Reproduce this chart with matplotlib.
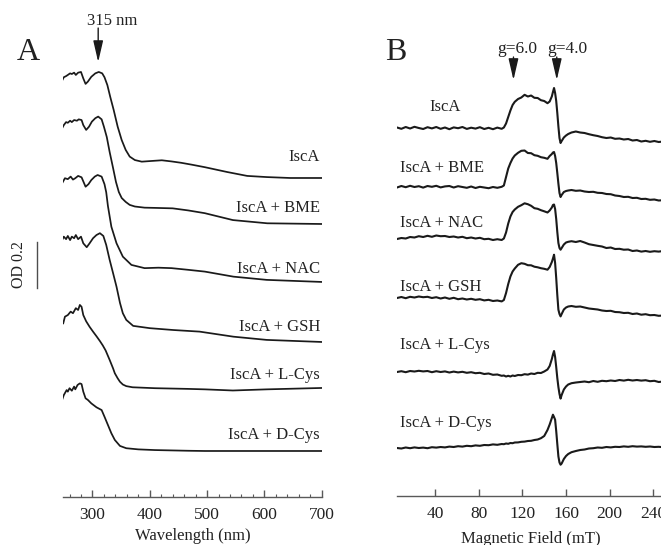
"""
UV-vis (A) and EPR (B) spectra of IscA with different thiols
"""

import numpy as np
import matplotlib.pyplot as plt
from matplotlib.ticker import MultipleLocator

plt.rcParams['font.family'] = ['Liberation Serif', 'DejaVu Serif']

samples = ['IscA', 'IscA + BME', 'IscA + NAC', 'IscA + GSH', 'IscA + L-Cys', 'IscA + D-Cys']

# ---- panel A: absorbance (OD, baseline at 700 nm = 0) ----
wl_isca = [247, 250, 254, 257, 261, 264, 268, 271, 275, 280, 284, 288, 292, 298, 305, 311, 317, 321, 326,
           331, 337, 344, 351, 358, 365, 374, 386, 403, 421, 438, 455, 473, 496, 535, 570, 604, 645, 700]
od_isca = [0.423, 0.438, 0.443, 0.448, 0.455, 0.452, 0.458, 0.448, 0.458, 0.461, 0.433, 0.409, 0.419,
           0.440, 0.455, 0.461, 0.455, 0.438, 0.404, 0.353, 0.296, 0.223, 0.165, 0.122, 0.093, 0.078,
           0.071, 0.074, 0.077, 0.072, 0.066, 0.058, 0.047, 0.026, 0.009, 0.004, 0.0, 0.0]

wl_bme = [247, 250, 254, 257, 261, 264, 268, 273, 276, 281, 284, 289, 294, 299, 305, 310, 316, 320, 325,
          330, 336, 341, 346, 351, 358, 365, 374, 391, 409, 440, 467, 496, 545, 605, 700]
od_bme = [0.416, 0.430, 0.443, 0.440, 0.449, 0.443, 0.452, 0.449, 0.455, 0.452, 0.430, 0.409, 0.423,
          0.445, 0.460, 0.467, 0.455, 0.423, 0.378, 0.313, 0.243, 0.183, 0.139, 0.113, 0.096, 0.083,
          0.076, 0.071, 0.070, 0.068, 0.059, 0.047, 0.017, 0.003, 0.0]

wl_nac = [247, 252, 257, 262, 266, 270, 275, 281, 288, 293, 298, 304, 309, 316, 321, 324, 327, 333, 342,
          353, 368, 391, 415, 438, 466, 496, 546, 604, 700]
od_nac = [0.429, 0.451, 0.447, 0.458, 0.445, 0.451, 0.461, 0.455, 0.414, 0.425, 0.443, 0.458, 0.465,
          0.458, 0.425, 0.390, 0.330, 0.240, 0.168, 0.110, 0.074, 0.060, 0.062, 0.060, 0.053, 0.045,
          0.023, 0.009, 0.0]

wl_gsh = [247, 250, 254, 257, 261, 264, 268, 271, 275, 280, 284, 290, 295, 301, 307, 313, 319, 324, 330,
          336, 342, 348, 353, 359, 371, 400, 441, 487, 546, 604, 700]
od_gsh = [0.443, 0.458, 0.447, 0.461, 0.443, 0.458, 0.451, 0.465, 0.447, 0.458, 0.429, 0.412, 0.429,
          0.451, 0.465, 0.473, 0.461, 0.422, 0.357, 0.299, 0.240, 0.170, 0.125, 0.096, 0.070, 0.060,
          0.052, 0.045, 0.023, 0.009, 0.0]

wl_lcys = [249, 252, 257, 262, 266, 271, 275, 278, 281, 284, 289, 295, 301, 307, 313, 318, 323, 330, 336,
           339, 344, 348, 353, 359, 370, 380, 409, 467, 496, 545, 604, 700]
od_lcys = [0.281, 0.310, 0.317, 0.332, 0.325, 0.347, 0.339, 0.361, 0.353, 0.317, 0.290, 0.266, 0.245,
           0.225, 0.204, 0.185, 0.163, 0.122, 0.085, 0.064, 0.042, 0.027, 0.015, 0.008, 0.003, 0.002,
           -0.001, -0.004, -0.006, -0.011, -0.006, 0.0]

wl_dcys = [247, 250, 255, 257, 260, 264, 268, 270, 274, 278, 281, 284, 288, 292, 298, 307, 316, 321, 327,
           333, 339, 348, 359, 380, 409, 467, 496, 700]
od_dcys = [0.222, 0.243, 0.265, 0.258, 0.273, 0.262, 0.280, 0.268, 0.287, 0.294, 0.291, 0.258, 0.229,
           0.222, 0.207, 0.190, 0.178, 0.149, 0.113, 0.077, 0.048, 0.022, 0.012, 0.007, 0.004, 0.001,
           0.0, 0.0]

uv_wl = [wl_isca, wl_bme, wl_nac, wl_gsh, wl_lcys, wl_dcys]
uv_od = [od_isca, od_bme, od_nac, od_gsh, od_lcys, od_dcys]
uv_offset = [1.387, 1.187, 0.935, 0.674, 0.474, 0.200]

# ---- panel B: EPR signal (arb. units, read at these fields in mT) ----
field = [5, 9, 13, 17, 21, 25, 29, 33, 37, 41, 45, 49, 53, 57, 61, 65, 69, 73, 77, 81, 85, 89, 93, 97, 101,
         103, 105, 107, 109, 111, 113, 116, 119, 122, 125, 128, 131, 134, 137, 140, 143, 145, 147, 148, 149,
         150, 151, 152, 153, 154, 155, 156, 158, 160, 162,
         165, 169, 173, 177, 181, 185, 189, 193, 197, 201, 205, 209, 213, 217, 221, 225, 229, 233, 237, 241,
         245, 249]

epr_isca = [0.05, -0.08, 0.10, -0.05, 0.12, 0.00, -0.10, 0.08, -0.04, 0.10, -0.08, 0.05, -0.12, 0.06, -0.02,
            0.10, -0.09, 0.03, -0.06, 0.08, -0.10, 0.02, -0.12, 0.04, -0.08,
            0.05, 0.45, 1.10, 1.75, 2.30, 2.62, 2.90, 3.05, 3.32, 3.15, 3.25, 3.02, 3.00, 2.78, 2.70, 2.48,
            2.65, 3.16, 3.60, 4.00, 3.50, 2.70, 1.50, 0.16, -1.00, -1.50, -1.30, -0.95, -0.75, -0.60,
            -0.45, -0.35, -0.45, -0.50, -0.62, -0.72, -0.80, -0.92, -1.00, -0.95, -1.08, -1.05, -1.15, -1.10,
            -1.25, -1.20, -1.35, -1.28, -1.38, -1.30, -1.40, -1.35]

epr_bme = [-0.05, 0.10, -0.02, 0.12, 0.00, 0.08, -0.06, 0.10, 0.02, 0.12, -0.04, 0.06, 0.10, -0.05, 0.08,
           0.00, -0.08, 0.05, -0.10, 0.02, -0.05, -0.12, 0.00, -0.08, 0.02,
           0.15, 1.00, 1.85, 2.40, 2.85, 3.15, 3.42, 3.62, 3.65, 3.40, 3.38, 3.18, 3.12, 2.98, 2.92, 2.82,
           3.10, 3.30, 3.45, 3.50, 3.10, 2.40, 1.40, 0.34, -0.60, -1.00, -0.80, -0.50, -0.40, -0.35,
           -0.30, -0.38, -0.35, -0.45, -0.50, -0.48, -0.58, -0.60, -0.70, -0.72, -0.85, -0.90, -1.00, -0.98,
           -1.10, -1.08, -1.20, -1.18, -1.28, -1.25, -1.35, -1.32]

epr_nac = [-0.10, 0.00, -0.05, 0.10, 0.05, 0.18, 0.10, 0.22, 0.12, 0.25, 0.18, 0.20, 0.10, 0.15, 0.05,
           0.12, -0.02, 0.05, -0.05, 0.02, -0.12, -0.08, -0.20, -0.12, -0.20,
           -0.05, 0.55, 1.45, 2.15, 2.60, 2.85, 3.12, 3.28, 3.47, 3.38, 3.22, 2.98, 2.92, 2.78, 2.67, 2.55,
           2.75, 3.05, 3.30, 3.35, 2.90, 1.90, 0.60, -0.50, -1.00, -1.17, -1.00, -0.65, -0.45, -0.38,
           -0.32, -0.40, -0.30, -0.45, -0.62, -0.70, -0.78, -0.85, -1.00, -0.95, -1.10, -1.08, -1.17, -1.15,
           -1.30, -1.25, -1.36, -1.30, -1.38, -1.32, -1.36, -1.30]

epr_gsh = [0.00, 0.10, -0.02, 0.12, 0.05, 0.15, 0.08, 0.12, 0.00, 0.08, -0.05, 0.05, -0.08, 0.02, -0.12,
           -0.05, -0.15, -0.08, -0.18, -0.12, -0.24, -0.18, -0.30, -0.25, -0.34,
           -0.20, 0.50, 1.40, 2.15, 2.65, 2.95, 3.32, 3.48, 3.42, 3.28, 3.27, 3.13, 3.07, 2.98, 2.92, 2.83,
           3.10, 3.60, 3.95, 4.33, 3.50, 2.00, 0.30, -1.17, -1.60, -1.84, -1.60, -1.15, -0.95, -0.85,
           -0.80, -0.88, -0.85, -0.95, -1.05, -1.10, -1.15, -1.25, -1.30, -1.28, -1.40, -1.42, -1.50, -1.48,
           -1.60, -1.55, -1.67, -1.62, -1.72, -1.70, -1.78, -1.75]

epr_lcys = [0.00, 0.08, -0.02, 0.10, 0.05, 0.12, 0.06, 0.10, -0.02, 0.08, 0.00, 0.06, -0.05, 0.04, -0.04,
            0.02, -0.08, -0.02, -0.12, -0.08, -0.20, -0.15, -0.28, -0.25, -0.38,
            -0.35, -0.45, -0.38, -0.45, -0.35, -0.40, -0.30, -0.32, -0.22, -0.26, -0.15, -0.20, -0.08, -0.10,
            0.05, 0.25, 0.60, 1.30, 1.75, 2.10, 1.50, 0.50, -0.60, -1.50, -2.20, -2.66, -2.30, -1.75, -1.45,
            -1.25,
            -1.12, -1.05, -1.00, -0.95, -1.02, -0.90, -0.98, -0.88, -0.92, -0.85, -0.90, -0.80, -0.86, -0.78,
            -0.85, -0.80, -0.86, -0.82, -0.92, -0.88, -1.00, -0.95]

epr_dcys = [0.00, -0.05, 0.05, -0.02, 0.06, 0.00, 0.04, -0.02, 0.08, 0.04, 0.10, 0.06, 0.14, 0.10, 0.18,
            0.14, 0.22, 0.18, 0.26, 0.22, 0.30, 0.28, 0.36, 0.32, 0.40,
            0.38, 0.45, 0.42, 0.50, 0.48, 0.55, 0.56, 0.62, 0.64, 0.70, 0.72, 0.80, 0.85, 0.98, 1.20, 1.80,
            2.35, 3.00, 3.33, 3.10, 2.83, 1.70, 0.40, -0.84, -1.45, -1.67, -1.55, -1.10, -0.80, -0.60,
            -0.42, -0.30, -0.20, -0.15, -0.05, -0.02, 0.05, 0.02, 0.10, 0.06, 0.12, 0.10, 0.16, 0.12,
            0.18, 0.14, 0.16, 0.12, 0.15, 0.10, 0.12, 0.08]

epr_signal = [epr_isca, epr_bme, epr_nac, epr_gsh, epr_lcys, epr_dcys]
epr_offset = [36.8, 30.9, 25.8, 19.8, 12.4, 4.8]

# label placement
a_label_dy = [0.09, 0.07, 0.055, 0.065, 0.056, 0.07]
b_label_x = [49, 7.5, 7.5, 7.5, 7.5, 7.5]
b_label_dy = [2.1, 1.9, 1.5, 1.1, 2.7, 2.5]

ink = '#1a1a1a'
axis_col = '0.35'

fig = plt.figure(figsize=(6.61, 5.45), dpi=100)
axa = fig.add_axes([0.0953, 0.0881, 0.3923, 0.8018])
axb = fig.add_axes([0.6006, 0.0899, 0.4042, 0.8])

for ax in (axa, axb):
    for s in ('top', 'left', 'right'):
        ax.spines[s].set_visible(False)
    ax.spines['bottom'].set_color(axis_col)
    ax.spines['bottom'].set_linewidth(1.0)
    ax.set_yticks([])
    ax.tick_params(axis='x', which='major', direction='in', length=5, width=1,
                   color=axis_col, labelsize=12.5, pad=7, labelcolor='#222222')
    ax.tick_params(axis='x', which='minor', direction='in', length=2.5, width=0.8, color=axis_col)
    ax.patch.set_alpha(0)

# panel A
for wl, od, off, name, dy in zip(uv_wl, uv_od, uv_offset, samples, a_label_dy):
    axa.plot(wl, np.array(od) + off, color=ink, lw=1.25)
    axa.text(697, off + dy, name, ha='right', va='center', fontsize=12, color='#222222')

axa.set_xlim(248.6, 701)
axa.set_ylim(0, 1.9)
axa.xaxis.set_major_locator(MultipleLocator(100))
axa.xaxis.set_minor_locator(MultipleLocator(20))
axa.set_xlabel('Wavelength (nm)', fontsize=12, labelpad=4, color='#222222')

axa.annotate('', xy=(310, 1.891), xytext=(310, 2.039), annotation_clip=False,
             arrowprops=dict(arrowstyle='-|>,head_length=1.3,head_width=0.3',
                             color=ink, lw=1, shrinkA=0, shrinkB=0))
axa.text(333.7, 2.07, '315 nm', ha='center', va='center', fontsize=12, color='#222222', clip_on=False)

# OD scale bar
axa.plot([202.7, 202.7], [0.909, 1.109], color='0.3', lw=1, clip_on=False)
axa.text(171.3, 1.009, 'OD 0.2', rotation=90, ha='center', va='center', fontsize=11.5,
         color='#222222', clip_on=False)

# panel B
for sig, off, name, lx, dy in zip(epr_signal, epr_offset, samples, b_label_x, b_label_dy):
    axb.plot(field, np.array(sig) + off, color=ink, lw=1.5)
    axb.text(lx, off + dy, name, ha='center' if lx > 20 else 'left', va='center',
             fontsize=12, color='#222222')

axb.set_xlim(5, 250)
axb.set_ylim(0, 43.6)
axb.set_xticks([40, 80, 120, 160, 200, 240])
axb.set_xlabel('Magnetic Field (mT)', fontsize=12, labelpad=7, color='#222222')

for g_field, g_text, g_x in [(111.8, 'g=6.0', 115.2), (151.5, 'g=4.0', 161.0)]:
    axb.annotate('', xy=(g_field, 41.6), xytext=(g_field, 43.9), annotation_clip=False,
                 arrowprops=dict(arrowstyle='-|>,head_length=1.3,head_width=0.3',
                                 color=ink, lw=1, shrinkA=0, shrinkB=0))
    axb.text(g_x, 44.7, g_text, ha='center', va='center', fontsize=12.5, color='#222222', clip_on=False)

fig.text(28.5 / 661, 1 - 53 / 545, 'A', fontsize=23, ha='center', va='center', color='#222222')
fig.text(396 / 661, 1 - 53 / 545, 'B', fontsize=23, ha='center', va='center', color='#222222')

fig.savefig('out.png', dpi=100)
